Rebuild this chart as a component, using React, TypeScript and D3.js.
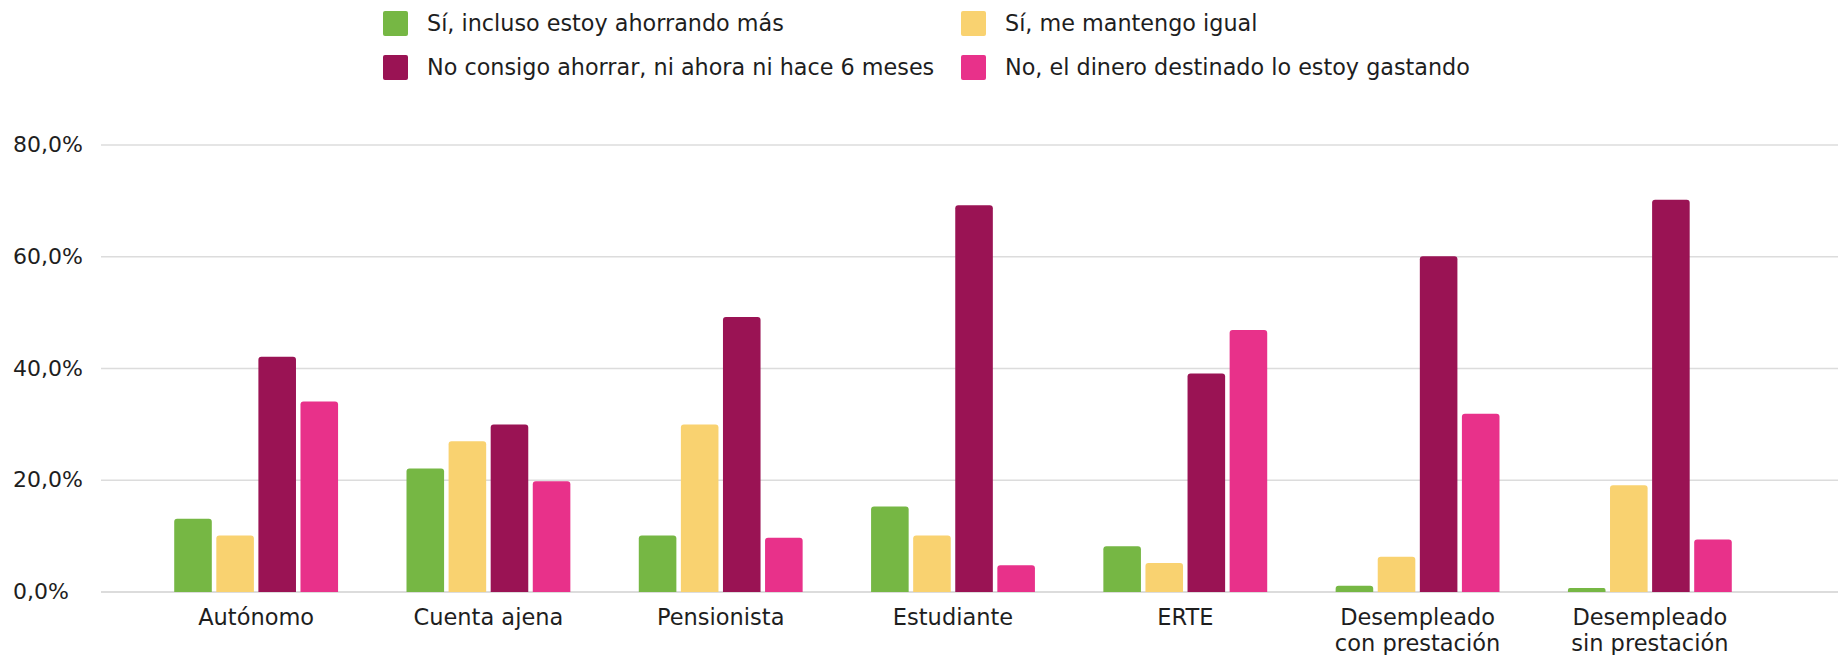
import React from "react";
import * as d3 from "d3";

const categories: string[][] = [
  ["Autónomo"],
  ["Cuenta ajena"],
  ["Pensionista"],
  ["Estudiante"],
  ["ERTE"],
  ["Desempleado", "con prestación"],
  ["Desempleado", "sin prestación"],
];

const seriesNames = [
  "Sí, incluso estoy ahorrando más",
  "Sí, me mantengo igual",
  "No consigo ahorrar, ni ahora ni hace 6 meses",
  "No, el dinero destinado lo estoy gastando",
];

const ahorrandoMas = [13.1, 22.1, 10.1, 15.3, 8.2, 1.1, 0.7];
const mantengoIgual = [10.1, 27.0, 30.0, 10.1, 5.2, 6.3, 19.1];
const noConsigo = [42.1, 30.0, 49.2, 69.2, 39.1, 60.1, 70.2];
const gastando = [34.1, 19.8, 9.7, 4.8, 46.9, 31.9, 9.4];

const yTicks = [0, 20, 40, 60, 80];
const colors = ["#76B744", "#F9D270", "#9A1354", "#E8318A"];

const W = 1840;
const H = 655;
const FONT = "'DejaVu Sans', sans-serif";

export default function App() {
  const series = [ahorrandoMas, mantengoIgual, noConsigo, gastando];
  const catKeys = categories.map((c) => c.join(" "));

  const x0 = d3
    .scaleBand<string>()
    .domain(catKeys)
    .range([140, 1766])
    .paddingInner(0.2946)
    .paddingOuter(0.1473);
  const x1 = d3
    .scaleBand<number>()
    .domain(d3.range(series.length))
    .range([0, x0.bandwidth()])
    .paddingInner(0.107);
  const y = d3.scaleLinear().domain([0, 80]).range([592, 145]);

  const fmt = (v: number) => v.toFixed(1).replace(".", ",") + "%";

  const barPath = (bx: number, bw: number, top: number, base: number) => {
    const h = base - top;
    const r = Math.min(3, h / 2, bw / 2);
    const p = d3.path();
    p.moveTo(bx, base);
    p.lineTo(bx, top + r);
    p.quadraticCurveTo(bx, top, bx + r, top);
    p.lineTo(bx + bw - r, top);
    p.quadraticCurveTo(bx + bw, top, bx + bw, top + r);
    p.lineTo(bx + bw, base);
    p.closePath();
    return p.toString();
  };

  const legendCols = [383, 961];
  const legendRows = [11, 55];

  return (
    <svg
      width={W}
      height={H}
      style={{ position: "absolute", left: 0, top: 0, background: "#fff" }}
      fontFamily={FONT}
    >
      {/* legend */}
      {seriesNames.map((name, i) => {
        const col = i % 2;
        const row = Math.floor(i / 2);
        const lx = legendCols[col];
        const ly = legendRows[row];
        return (
          <g key={name}>
            <rect x={lx} y={ly} width={25} height={25} rx={2} fill={colors[i]} />
            <text x={lx + 44} y={ly + 20} fontSize={22.3} fill="#1e1e1e">
              {name}
            </text>
          </g>
        );
      })}

      {/* gridlines */}
      {yTicks.map((t) => (
        <g key={t}>
          <line
            x1={101}
            x2={1838}
            y1={y(t)}
            y2={y(t)}
            stroke="#dcdcdc"
            strokeWidth={t === 0 ? 2 : 1.5}
          />
          <text x={13} y={y(t) + 7} fontSize={22} fill="#1e1e1e">
            {fmt(t)}
          </text>
        </g>
      ))}

      {/* bars */}
      {catKeys.map((ck, ci) => (
        <g key={ck} transform={`translate(${x0(ck)},0)`}>
          {series.map((s, si) => (
            <path
              key={si}
              d={barPath(x1(si)!, x1.bandwidth(), y(s[ci]), y(0))}
              fill={colors[si]}
            />
          ))}
        </g>
      ))}

      {/* category labels */}
      {categories.map((lines, ci) => (
        <text
          key={ci}
          x={x0(catKeys[ci])! + x0.bandwidth() / 2}
          y={625}
          fontSize={22.5}
          fill="#1e1e1e"
          textAnchor="middle"
        >
          {lines.map((ln, li) => (
            <tspan key={li} x={x0(catKeys[ci])! + x0.bandwidth() / 2} dy={li === 0 ? 0 : 26}>
              {ln}
            </tspan>
          ))}
        </text>
      ))}
    </svg>
  );
}
